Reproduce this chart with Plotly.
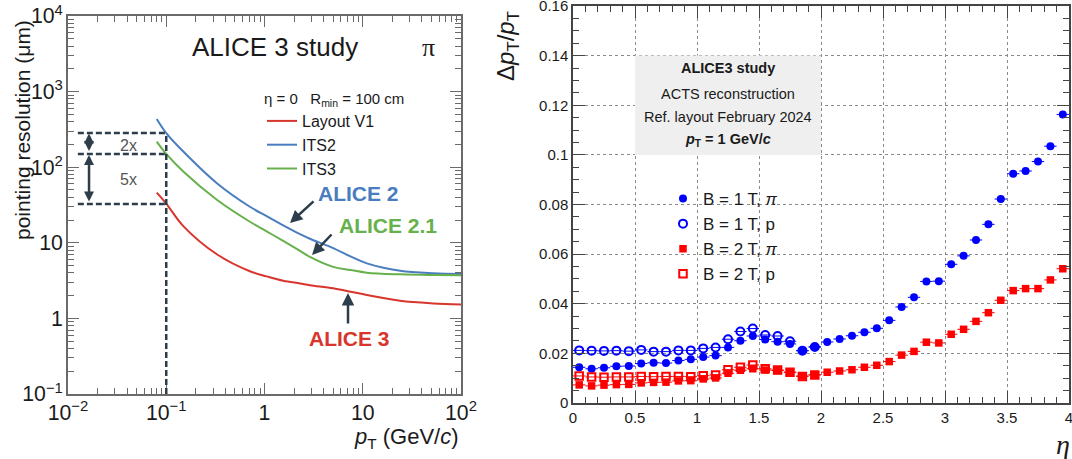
import plotly.graph_objects as go

W, H = 1072, 459
FONT = "Liberation Sans"
SERIF = "Liberation Serif"

# ---------------- left panel data (pointing resolution vs pT) ----------------
pt = [0.08, 0.1, 0.15, 0.33, 0.71, 1.05, 1.55, 2.3, 2.9, 5, 7.5, 11, 24, 52, 100]
res_layout_v1 = [46, 33, 16.5, 7.0, 4.2, 3.6, 3.15, 2.9, 2.75, 2.5, 2.25, 2.04, 1.71, 1.58, 1.53]
res_its2 = [435, 283, 160, 61, 30, 22.5, 17, 13, 11.3, 8.5, 6.6, 5.35, 4.27, 3.95, 3.87]
res_its3 = [218, 150, 87, 36.8, 19, 14.2, 10.6, 7.8, 6.5, 4.8, 4.37, 4.03, 3.83, 3.75, 3.72]
left_names = ["Layout V1", "ITS2", "ITS3"]

# ---------------- right panel data (relative pT resolution vs eta) ----------------
eta = [0.05, 0.15, 0.25, 0.35, 0.45, 0.55, 0.65, 0.75, 0.85, 0.95,
       1.05, 1.15, 1.25, 1.35, 1.45, 1.55, 1.65, 1.75, 1.85, 1.95,
       2.05, 2.15, 2.25, 2.35, 2.45, 2.55, 2.65, 2.75, 2.85, 2.95,
       3.05, 3.15, 3.25, 3.35, 3.45, 3.55, 3.65, 3.75, 3.85, 3.95]
b1_pi = [0.0144, 0.0138, 0.0142, 0.0148, 0.0149, 0.0159, 0.0162, 0.0161, 0.0171, 0.0176,
         0.0185, 0.0191, 0.0224, 0.0251, 0.0270, 0.0256, 0.0247, 0.0238, 0.0211, 0.0226,
         0.0246, 0.0258, 0.0271, 0.0285, 0.0301, 0.0333, 0.0387, 0.0426, 0.0490, 0.0491,
         0.0559, 0.0593, 0.0657, 0.0720, 0.0822, 0.0924, 0.0935, 0.0973, 0.1035, 0.1163]
b1_p = [0.0212, 0.0211, 0.0210, 0.0211, 0.0209, 0.0214, 0.0207, 0.0207, 0.0212, 0.0212,
        0.0220, 0.0224, 0.0257, 0.0288, 0.0300, 0.0274, 0.0270, 0.0249, 0.0211, 0.0226]
b2_pi = [0.0073, 0.0069, 0.0072, 0.0074, 0.0075, 0.0081, 0.0083, 0.0084, 0.0089, 0.0090,
         0.0097, 0.0101, 0.0120, 0.0132, 0.0138, 0.0133, 0.0131, 0.0124, 0.0109, 0.0114,
         0.0124, 0.0129, 0.0134, 0.0144, 0.0152, 0.0167, 0.0193, 0.0208, 0.0245, 0.0242,
         0.0277, 0.0297, 0.0329, 0.0364, 0.0414, 0.0453, 0.0461, 0.0461, 0.0496, 0.0541]
b2_p = [0.0109, 0.0105, 0.0104, 0.0105, 0.0105, 0.0107, 0.0106, 0.0107, 0.0107, 0.0106,
        0.0110, 0.0113, 0.0134, 0.0144, 0.0153, 0.0138, 0.0133, 0.0124, 0.0107, 0.0113]
eta_half_bin = 0.05
right_names = ["B = 1 T, <i>π</i>", "B = 1 T, p", "B = 2 T, <i>π</i>", "B = 2 T, p"]

RED = "#d8352c"
BLUE = "#4a7dbf"
GREEN = "#66b14b"
DARK = "#2e3d4b"
ROOT_BLUE = "#0000ff"
ROOT_RED = "#ff0000"


def px(x):
    return x / W


def py(y):
    return 1 - y / H


fig = go.Figure()

# left curves
for name, ys, col in zip(left_names, [res_layout_v1, res_its2, res_its3], [RED, BLUE, GREEN]):
    fig.add_trace(go.Scatter(x=pt, y=ys, mode="lines", name=name,
                             line=dict(color=col, width=2, shape="spline", smoothing=1.0),
                             xaxis="x", yaxis="y", legend="legend"))

# right markers
series = [
    (b1_pi, dict(symbol="circle", size=8, color=ROOT_BLUE), ROOT_BLUE),
    (b1_p, dict(symbol="circle-open", size=8, color=ROOT_BLUE, line=dict(width=2, color=ROOT_BLUE)), ROOT_BLUE),
    (b2_pi, dict(symbol="square", size=7.5, color=ROOT_RED), ROOT_RED),
    (b2_p, dict(symbol="square-open", size=7.5, color=ROOT_RED, line=dict(width=2, color=ROOT_RED)), ROOT_RED),
]
for name, (ys, mk, col) in zip(right_names, series):
    fig.add_trace(go.Scatter(x=eta[:len(ys)], y=ys, mode="markers", name=name, marker=mk,
                             error_x=dict(type="constant", value=eta_half_bin, color=col,
                                          thickness=1, width=0),
                             xaxis="x2", yaxis="y2", legend="legend2"))

axis_common_left = dict(showline=True, linecolor="#6a6a6a", linewidth=1.5, mirror="ticks",
                        ticks="inside", ticklen=11, tickcolor="#6a6a6a", tickwidth=1.2,
                        showgrid=False, zeroline=False, type="log", dtick=1, tick0=0,
                        exponentformat="power", automargin=False, ticklabeloverflow="allow",
                        tickfont=dict(family=FONT, size=17, color="#1a1a1a"),
                        minor=dict(ticks="inside", ticklen=6, dtick="D1", tickcolor="#6a6a6a",
                                   tickwidth=1, showgrid=False))

axis_common_right = dict(showline=True, linecolor="#444", linewidth=1.5, mirror="ticks",
                         ticks="inside", ticklen=12, tickcolor="#444", tickwidth=1.2,
                         showgrid=True, gridcolor="#8a8a8a", gridwidth=1, griddash="dot",
                         zeroline=False, automargin=False, ticklabeloverflow="allow",
                         tickfont=dict(family=FONT, size=15, color="#1a1a1a"))

fig.update_layout(
    width=W, height=H, margin=dict(l=0, r=0, t=0, b=0, autoexpand=False),
    paper_bgcolor="white", plot_bgcolor="white",
    font=dict(family=FONT, color="#1a1a1a"),
    xaxis=dict(domain=[px(68), px(461)], range=[-2, 2], anchor="y", **axis_common_left),
    yaxis=dict(domain=[py(394), py(16)], range=[-1, 4], anchor="x", **axis_common_left),
    xaxis2=dict(domain=[px(573), px(1069)], range=[0, 4], anchor="y2", dtick=0.5, tick0=0,
                minor=dict(ticks="inside", ticklen=6, dtick=0.1, tickcolor="#444", showgrid=False),
                **axis_common_right),
    yaxis2=dict(domain=[py(403), py(6)], range=[0, 0.16], anchor="x2", dtick=0.02, tick0=0,
                minor=dict(ticks="inside", ticklen=6, dtick=0.005, tickcolor="#444", showgrid=False),
                **axis_common_right),
    legend=dict(x=px(262), y=py(104), xanchor="left", yanchor="top", bgcolor="rgba(0,0,0,0)",
                font=dict(family=FONT, size=16, color="#1a1a1a"), itemwidth=30, tracegroupgap=0),
    legend2=dict(x=px(663), y=py(181), xanchor="left", yanchor="top", bgcolor="rgba(0,0,0,0)",
                 font=dict(family=FONT, size=17, color="#1a1a1a")),
)

# text box on right panel (drawn above grid, below data)
fig.add_shape(type="rect", xref="x2", yref="y2", x0=0.5, x1=2.0, y0=0.1, y1=0.14,
              fillcolor="#efefef", line=dict(width=0), layer="between")

# dashed guide lines on left panel
dash_style = dict(color=DARK, width=2.5, dash="6px,3px")
for yv in [283, 150, 32.6]:
    fig.add_shape(type="line", xref="x", yref="y", x0=0.0126, x1=0.1, y0=yv, y1=yv, line=dash_style)
fig.add_shape(type="line", xref="x", yref="y", x0=0.1, x1=0.1, y0=0.1, y1=283, line=dash_style)


def ann(text, x, y, size, color="#1a1a1a", family=FONT, xanchor="center", yanchor="middle", **kw):
    fig.add_annotation(text=text, x=px(x), y=py(y), xref="paper", yref="paper",
                       xanchor=xanchor, yanchor=yanchor,
                       showarrow=False, font=dict(size=size, color=color, family=family), **kw)


# left panel texts
ann("ALICE 3 study", 275, 47, 26)
ann("π", 428, 47, 26, family=SERIF)
ann("η = 0\u00a0\u00a0\u00a0R<sub>min</sub> = 100 cm", 334, 99, 15)
ann("<b>ALICE 2</b>", 358, 193, 21, color=BLUE)
ann("<b>ALICE 2.1</b>", 388, 226, 21, color=GREEN)
ann("<b>ALICE 3</b>", 349, 338, 21, color=RED)
ann("2x", 128, 145, 16, color="#555")
ann("5x", 128, 180, 16, color="#555")
ann("pointing resolution (μm)", 22, 130, 21, textangle=-90)
ann("<i>p</i><sub>T</sub> (GeV/<i>c</i>)", 461, 438, 22, xanchor="right")


# arrows on left panel (tips on curves; log10 coordinates for log axes)
def arrow(tip_x, tip_y, ax, ay, side="end", size=1.0):
    fig.add_annotation(x=tip_x, y=tip_y, xref="x", yref="y", ax=ax, ay=ay, axref="pixel", ayref="pixel",
                       text="", showarrow=True, arrowhead=2, arrowsize=size, arrowwidth=2.5,
                       arrowcolor=DARK, arrowside=side)


arrow(0.2595, 1.262, 25, -23)
arrow(0.4834, 0.8386, 21, -22)
arrow(0.850, 0.336, 0, 32)
arrow(-1.786, 2.445, 0, 19, side="end+start", size=0.8)
arrow(-1.786, 2.163, 0, 48, side="end+start", size=0.8)

# right panel texts
ann("<b>ALICE3 study</b>", 728, 68, 14.5)
ann("ACTS reconstruction", 728, 94, 14.5)
ann("Ref. layout February 2024", 728, 117, 14.5)
ann("<b><i>p</i><sub>T</sub> = 1 GeV/<i>c</i></b>", 728, 140, 14.5)
ann("Δ<i>p</i><sub>T</sub>/<i>p</i><sub>T</sub>", 507, 46, 24, textangle=-90)
ann("<i>η</i>", 1063, 444, 28, family=SERIF)

fig.write_html("out.html")
